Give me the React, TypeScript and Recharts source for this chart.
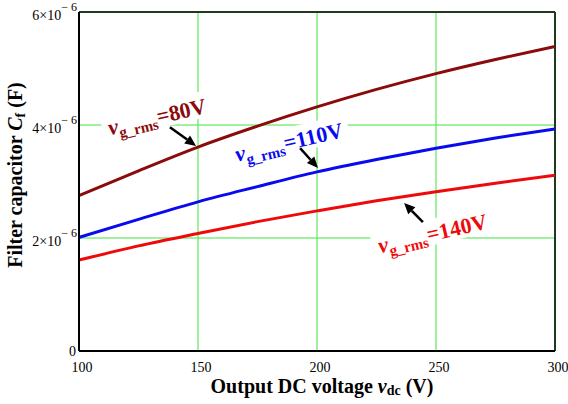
import { CartesianGrid, Line, LineChart, ReferenceLine, XAxis, YAxis } from "recharts";

// capacitance in units of 1e-6 F
const voltage = [100, 125, 150, 175, 200, 225, 250, 275, 300];
const cap80 = [2.75, 3.19, 3.61, 3.98, 4.32, 4.63, 4.91, 5.16, 5.39];
const cap110 = [2.01, 2.33, 2.64, 2.91, 3.17, 3.39, 3.59, 3.77, 3.93];
const cap140 = [1.61, 1.86, 2.08, 2.29, 2.48, 2.66, 2.82, 2.97, 3.11];

const xTicks = [100, 150, 200, 250, 300];
const yTicks = [0, 2, 4, 6];

const data = voltage.map((v, i) => ({
  v,
  c80: cap80[i],
  c110: cap110[i],
  c140: cap140[i],
}));

const W = 568;
const H = 404;
const LEFT = 79;
const RIGHT = 13;
const TOP = 12;
const XAXIS_H = 53;
const plotW = W - LEFT - RIGHT;
const plotH = H - TOP - XAXIS_H;

const serif = '"Liberation Serif", "Times New Roman", serif';
const gridGreen = "#3ee63e";
const frameGreen = "#1e3a1e";

const px = (v: number) => LEFT + ((v - 100) / 200) * plotW;
const py = (c: number) => TOP + plotH - (c / 6) * plotH;

type Note = {
  text: string;
  color: string;
  at: [number, number];
  width: number;
  tail: [number, number];
  head: [number, number];
};

const notes: Note[] = [
  { text: "80V", color: "#8b0a0a", at: [113, 3.82], width: 101, tail: [138.2, 3.96], head: [149.2, 3.63] },
  { text: "110V", color: "#0a0aee", at: [166.4, 3.35], width: 112, tail: [192.9, 3.59], head: [200.4, 3.24] },
  { text: "140V", color: "#ee0a0a", at: [226.5, 1.73], width: 112, tail: [244.5, 2.28], head: [236.6, 2.62] },
];

function XTick({ x, y, payload }: any) {
  return (
    <text x={x + 3} y={y + 13} textAnchor="middle" fontFamily={serif} fontSize={14} fill="#000">
      {payload.value}
    </text>
  );
}

function YTick({ x, y, payload }: any) {
  if (payload.value === 0) {
    return (
      <text x={x + 5} y={y + 5} textAnchor="end" fontFamily={serif} fontSize={14} fill="#000">
        0
      </text>
    );
  }
  return (
    <text x={x + 6} y={y + 8} textAnchor="end" fontFamily={serif} fontSize={14} fill="#000">
      <tspan>{`${payload.value}×10`}</tspan>
      <tspan dy={-9} fontSize={12}>{"− 6"}</tspan>
    </text>
  );
}

function Arrow({ tail, head }: { tail: [number, number]; head: [number, number] }) {
  const x1 = px(tail[0]);
  const y1 = py(tail[1]);
  const x2 = px(head[0]);
  const y2 = py(head[1]);
  const dx = x2 - x1;
  const dy = y2 - y1;
  const len = Math.hypot(dx, dy);
  const ux = dx / len;
  const uy = dy / len;
  const hl = 11;
  const hw = 5;
  const bx = x2 - ux * hl;
  const by = y2 - uy * hl;
  return (
    <g>
      <line x1={x1} y1={y1} x2={bx} y2={by} stroke="#000" strokeWidth={2.5} />
      <polygon
        points={`${x2},${y2} ${bx - uy * hw},${by + ux * hw} ${bx + uy * hw},${by - ux * hw}`}
        fill="#000"
      />
    </g>
  );
}

function Annotations() {
  return (
    <svg width={W} height={H} style={{ position: "absolute", left: 0, top: 0, pointerEvents: "none" }}>
      {notes.map((n) => (
        <g key={n.text} transform={`translate(${px(n.at[0])},${py(n.at[1])}) rotate(-13)`}>
          <rect x={-6} y={-22} width={n.width + 10} height={26} fill="#fff" />
          <text fontFamily={serif} fontWeight="bold" fill={n.color} fontSize={22}>
            <tspan fontStyle="italic">v</tspan>
            <tspan fontSize={15} dy={5}>g_rms</tspan>
            <tspan dy={-5}>{`=${n.text}`}</tspan>
          </text>
        </g>
      ))}
      {notes.map((n) => (
        <Arrow key={`a${n.text}`} tail={n.tail} head={n.head} />
      ))}
      <text x={322} y={393} textAnchor="middle" fontFamily={serif} fontWeight="bold" fontSize={20} fill="#000">
        <tspan>Output DC voltage </tspan>
        <tspan fontStyle="italic">v</tspan>
        <tspan fontSize={14} dy={2}>dc</tspan>
        <tspan dy={-2}> (V)</tspan>
      </text>
      <text
        transform="translate(22,175) rotate(-90)"
        textAnchor="middle"
        fontFamily={serif}
        fontWeight="bold"
        fontSize={20}
        fill="#000"
      >
        <tspan>Filter capacitor </tspan>
        <tspan fontStyle="italic">C</tspan>
        <tspan fontSize={14} dy={3}>f</tspan>
        <tspan dy={-3}> (F)</tspan>
      </text>
    </svg>
  );
}

export default function App() {
  return (
    <div style={{ position: "absolute", left: 0, top: 0, width: W, height: H, background: "#fff" }}>
      <LineChart width={W} height={H} data={data} margin={{ top: TOP, right: RIGHT, left: 0, bottom: 0 }}>
        <CartesianGrid stroke={gridGreen} strokeWidth={1} />
        <XAxis
          dataKey="v"
          type="number"
          domain={[100, 300]}
          ticks={xTicks}
          height={XAXIS_H}
          stroke="#000"
          strokeWidth={2}
          tickLine={false}
          tick={<XTick />}
          interval={0}
        />
        <YAxis
          type="number"
          domain={[0, 6]}
          ticks={yTicks}
          width={LEFT}
          stroke="#000"
          strokeWidth={2}
          tickLine={false}
          tick={<YTick />}
          interval={0}
        />
        <ReferenceLine y={6} stroke={frameGreen} strokeWidth={2} />
        <ReferenceLine x={300} stroke={frameGreen} strokeWidth={2} />
        <Line type="monotone" dataKey="c80" stroke="#8b0a0a" strokeWidth={3} dot={false} isAnimationActive={false} />
        <Line type="monotone" dataKey="c110" stroke="#0a0aee" strokeWidth={3} dot={false} isAnimationActive={false} />
        <Line type="monotone" dataKey="c140" stroke="#ee0a0a" strokeWidth={3} dot={false} isAnimationActive={false} />
      </LineChart>
      <Annotations />
    </div>
  );
}
